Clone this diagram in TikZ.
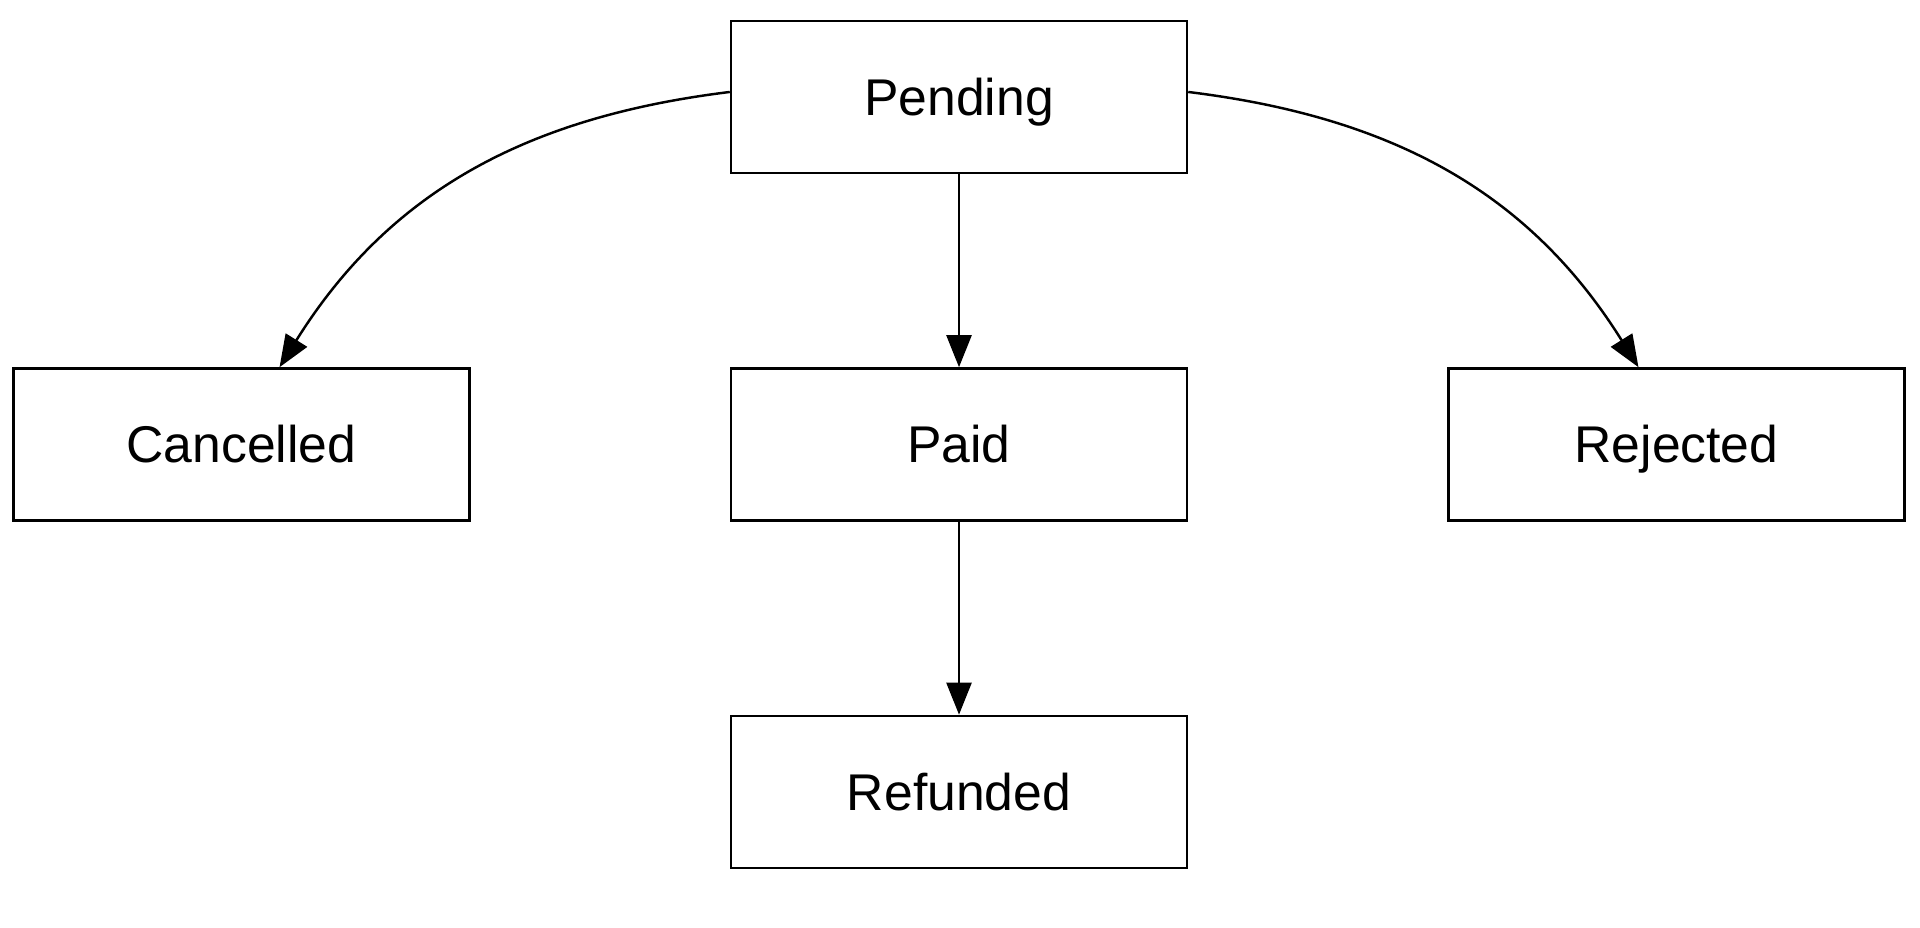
\documentclass[tikz,border=0pt]{standalone}
\usepackage{fontspec}
\setmainfont{Liberation Sans}
\usetikzlibrary{arrows.meta,positioning,calc}
\tikzset{
  state/.style={draw,line width=0.7pt,minimum width=45.6mm,minimum height=15.2mm,
    text height=1.15em,text depth=0.1em,font=\fontsize{14.7}{17}\selectfont},
  trans/.style={-{Triangle[length=3.2mm,width=2.5mm]},line width=0.7pt}
}

\begin{document}
\begin{tikzpicture}[node distance=19.3mm and 25.9mm]
  \useasboundingbox (0,0) rectangle (19.2,9.28);
  % states
  \node[state] (pend) at (9.59,8.31) {Pending};
  \node[state,below=of pend] (paid) {Paid};
  \node[state,left=of paid] (canc) {Cancelled};
  \node[state,right=of paid] (rej) {Rejected};
  \node[state,below=of paid] (ref) {Refunded};
  % transitions
  \draw[trans] ($(pend.west)+(0,0.05)$) to[out=187,in=58] ($(canc.north)+(0.38,0)$);
  \draw[trans] ($(pend.east)+(0,0.05)$) to[out=-7,in=122] ($(rej.north)-(0.38,0)$);
  \draw[trans] (pend) -- (paid);
  \draw[trans] (paid) -- (ref);
\end{tikzpicture}
\end{document}
